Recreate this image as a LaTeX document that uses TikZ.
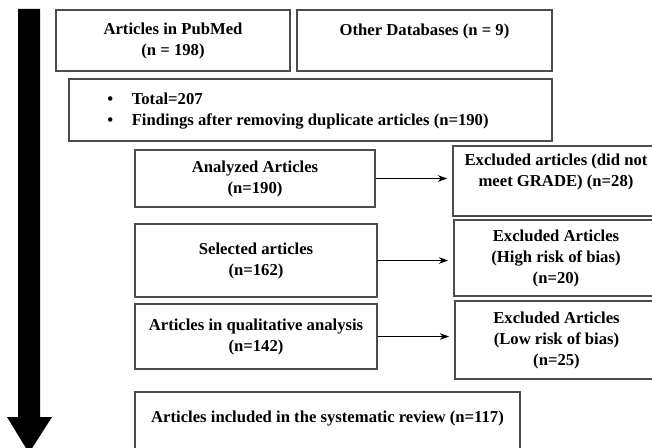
\documentclass[tikz,border=0pt]{standalone}
\usepackage{fontspec}
\setmainfont{Liberation Serif}
\usepackage{xcolor}
\usepackage{tikz}
\usetikzlibrary{arrows.meta}
\tikzstyle{block} = [rectangle, draw = black!70, line width = 0.8pt, align = center, inner sep = 2pt, font = \fontsize{12.5}{15.75}\selectfont\bfseries]
\tikzstyle{line} = [line width = 0.8pt, -{Stealth[length = 7pt, width = 5pt]}, shorten > = 4pt]

\begin{document}
\begin{tikzpicture}[x = 0.75pt, y = -0.75pt]
        \useasboundingbox (0,0) rectangle (652,448);
        \clip (0,0) rectangle (652,448);
        % flow arrow on the left
        \fill[black] (18,9) -- (40,9) -- (40,417) -- (52,417) -- (29,453) -- (7,417) -- (18,417) -- cycle;
        % boxes
        \node (pubmed) [block, minimum width = 175.5pt, minimum height = 45.75pt] at (173,40.5) {Articles in PubMed\\(n = 198)};
        \node (other) [block, minimum width = 191.25pt, minimum height = 45.75pt] at (424.5,40.5) {Other Databases (n = 9)\\\mbox{}};
        \node (total) [block, minimum width = 362.25pt, minimum height = 46.5pt] at (310.5,110) {};
        \node (totaltxt) [anchor = west, inner sep = 0pt, font = \fontsize{12.5}{15.75}\selectfont\bfseries] at (107,111)
            {\begin{tabular}{@{}l@{\hspace{14pt}}l@{}}\textbullet & Total=207\\ \textbullet & Findings after removing duplicate articles (n=190)\end{tabular}};
        \node (analyzed) [block, minimum width = 180pt, minimum height = 42.75pt] at (255,178.5) {Analyzed Articles\\(n=190)};
        \node (grade) [block, minimum width = 154.5pt, minimum height = 52.5pt] at (556,181) {Excluded articles (did not\\meet GRADE) (n=28)\\\mbox{}};
        \node (selected) [block, minimum width = 181.5pt, minimum height = 54.75pt] at (256,260.5) {Selected articles\\(n=162)};
        \node (high) [block, minimum width = 153pt, minimum height = 57pt] at (556,258) {Excluded Articles\\(High risk of bias)\\(n=20)};
        \node (qual) [block, minimum width = 181.5pt, minimum height = 48.75pt] at (256,336.5) {Articles in qualitative analysis\\(n=142)};
        \node (low) [block, minimum width = 152.25pt, minimum height = 58.5pt] at (556.5,340) {Excluded Articles\\(Low risk of bias)\\(n=25)};
        \node (included) [block, minimum width = 288.75pt, minimum height = 52.5pt] at (327.5,427) {Articles included in the systematic review (n=117)\\\mbox{}};
        % exclusions
        \draw[line] (analyzed.east) -- (analyzed.east -| grade.west);
        \draw[line] (selected.east) -- (selected.east -| high.west);
        \draw[line] (qual.east) -- (qual.east -| low.west);
    \end{tikzpicture}
\end{document}
